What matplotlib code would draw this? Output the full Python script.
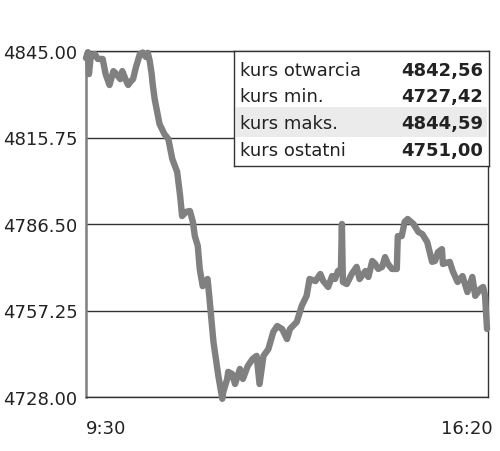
#!/usr/bin/env python3

import matplotlib
matplotlib.use("Agg")
import matplotlib.pyplot as plt
from matplotlib.transforms import ScaledTranslation

# minutes after 9:30 and index value
minutes = [
    0, 2, 3, 5, 9, 12, 17, 20, 24, 28, 31, 35, 37, 41, 43, 45, 48, 51, 55, 58,
    61, 63, 65, 67, 68, 70, 73, 75, 80, 84, 88, 93, 96, 98, 102, 106, 109, 111,
    114, 116, 119, 124, 126, 130, 135, 139, 140, 144, 145, 149, 152, 157, 160,
    165, 170, 174, 177, 181, 186, 191, 195, 200, 205, 208, 215, 220, 225, 228,
    234, 239, 242, 247, 251, 254, 257, 260, 261, 262, 266, 271, 276, 279, 285,
    288, 292, 295, 298, 302, 305, 308, 312, 317, 318, 322, 325, 328, 334, 339,
    343, 348, 353, 356, 359, 363, 364, 371, 374, 379, 384, 389, 394, 397, 402,
    405, 407, 409,
]
prices = [
    4842.6, 4844.6, 4837.2, 4843.6, 4844.0, 4842.3, 4842.3, 4837.2, 4833.5,
    4838.2, 4837.2, 4835.5, 4838.2, 4834.9, 4833.5, 4834.5, 4835.5, 4839.6,
    4844.0, 4844.5, 4843.0, 4844.4, 4841.6, 4837.2, 4833.8, 4828.8, 4823.7,
    4820.3, 4816.9, 4815.2, 4808.5, 4804.1, 4796.0, 4789.2, 4790.6, 4790.9,
    4787.2, 4782.4, 4779.1, 4771.3, 4765.5, 4767.9, 4761.1, 4746.6, 4735.1,
    4727.4, 4729.7, 4734.1, 4736.5, 4735.8, 4732.4, 4737.5, 4734.1, 4738.5,
    4740.9, 4741.9, 4732.4, 4741.9, 4744.2, 4750.0, 4752.0, 4751.0, 4747.6,
    4751.0, 4753.4, 4758.8, 4762.2, 4767.9, 4767.2, 4769.6, 4767.2, 4765.2,
    4768.9, 4767.9, 4770.6, 4771.3, 4786.5, 4766.9, 4766.2, 4769.6, 4772.0,
    4767.9, 4770.6, 4768.6, 4774.0, 4773.0, 4771.3, 4772.0, 4775.3, 4773.0,
    4771.3, 4771.3, 4782.4, 4782.4, 4787.2, 4788.2, 4786.5, 4783.8, 4783.1,
    4780.4, 4773.7, 4774.0, 4777.0, 4778.0, 4773.0, 4773.7, 4770.6, 4766.9,
    4768.9, 4763.5, 4768.6, 4762.2, 4764.5, 4765.2, 4762.2, 4751.0,
]

yticks = [4728.00, 4757.25, 4786.50, 4815.75, 4845.00]
xtick_pos = [0, 410]
xtick_labels = ["9:30", "16:20"]

stat_labels = ["kurs otwarcia", "kurs min.", "kurs maks.", "kurs ostatni"]
stat_values = ["4842,56", "4727,42", "4844,59", "4751,00"]

TEXT = "#222222"
LINE = "#808080"
DARK = "#333333"


def main():
    plt.rcParams["font.family"] = "DejaVu Sans"
    fig = plt.figure(figsize=(5.0, 4.52), dpi=100)
    ax = fig.add_axes([86 / 500, 54 / 452, 402 / 500, 346 / 452])

    ax.plot(minutes, prices, color=LINE, lw=4.6, solid_joinstyle="round",
            solid_capstyle="round", clip_on=False, zorder=3)

    ax.set_xlim(0, 410)
    ax.set_ylim(4728, 4845)
    ax.set_yticks(yticks, labels=[f"{v:.2f}" for v in yticks])
    ax.set_xticks(xtick_pos, labels=xtick_labels)
    for lab, ha in zip(ax.get_xticklabels(), ["left", "right"]):
        lab.set_ha(ha)
    ax.tick_params(axis="both", length=0, labelsize=13, labelcolor=TEXT)
    ax.tick_params(axis="y", pad=6)
    ax.tick_params(axis="x", pad=16)
    # nudge 16:20 slightly past the right edge like the reference
    last = ax.get_xticklabels()[1]
    last.set_transform(last.get_transform()
                       + ScaledTranslation(5 / 100, 0, fig.dpi_scale_trans))

    ax.grid(axis="y", color=DARK, lw=1.0)
    ax.set_axisbelow(True)
    ax.spines["left"].set_color(LINE)
    ax.spines["left"].set_linewidth(1.8)
    for s in ["top", "right", "bottom"]:
        ax.spines[s].set_color(DARK)
        ax.spines[s].set_linewidth(1.0)

    # stats box, in pixel units (115 px tall)
    box = fig.add_axes([234 / 500, (452 - 167) / 452, 255 / 500, 115 / 452])
    box.set_xlim(0, 255)
    box.set_ylim(115, 0)
    box.set_xticks([])
    box.set_yticks([])
    for s in box.spines.values():
        s.set_color(DARK)
        s.set_linewidth(1.0)
    box.axhspan(56, 86, xmin=0.008, xmax=0.992, color="#ebebeb", lw=0)
    row_y = [19, 45, 72, 99]
    for y, lab, val in zip(row_y, stat_labels, stat_values):
        box.text(6, y, lab, ha="left", va="center", fontsize=13, color=TEXT)
        box.text(249, y, val, ha="right", va="center", fontsize=13,
                 fontweight="bold", color=TEXT)

    fig.savefig("out.png", dpi=100)


if __name__ == "__main__":
    main()
